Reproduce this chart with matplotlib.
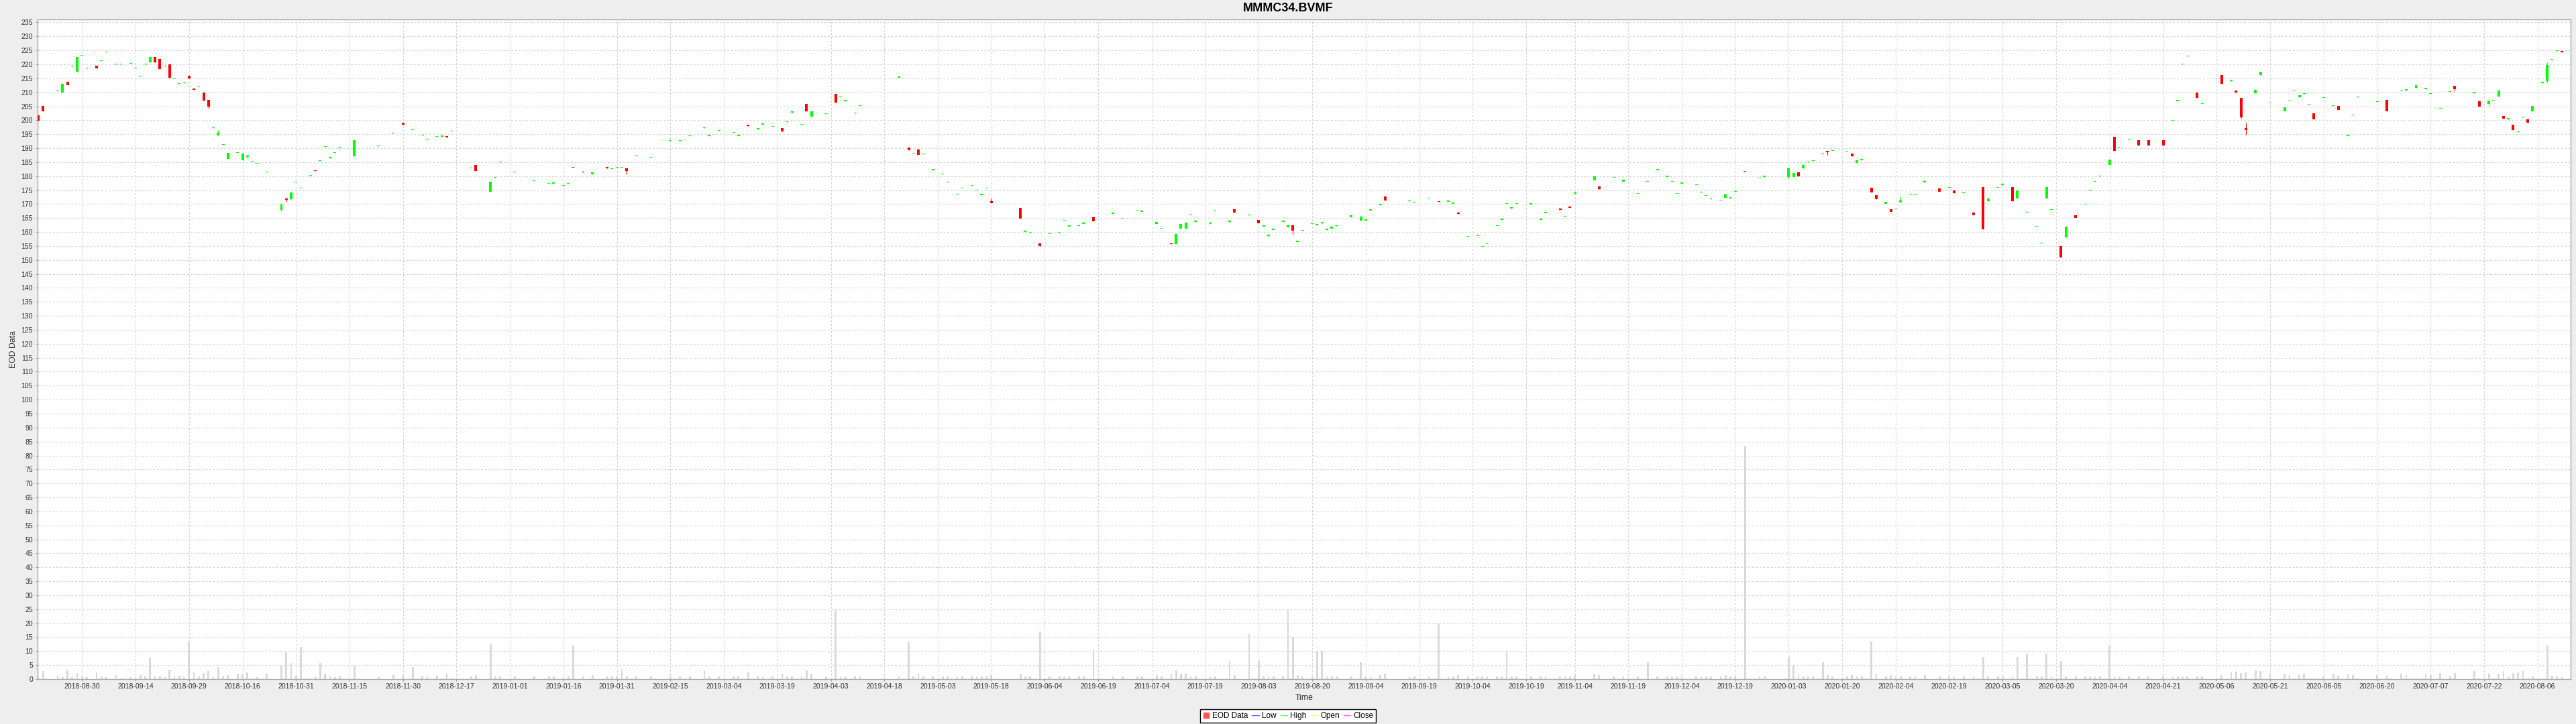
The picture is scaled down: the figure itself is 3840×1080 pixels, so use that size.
import numpy as np
import matplotlib
matplotlib.use("Agg")
import matplotlib.pyplot as plt
from matplotlib.lines import Line2D

plt.rcParams['font.family'] = ['Liberation Sans', 'DejaVu Sans']
plt.rcParams['lines.scale_dashes'] = False

TITLE = "MMMC34.BVMF"
START = "2018-08-30"   # trading_day 0 (Mon-Fri timeline)

tick_dates = ["2018-08-30", "2018-09-14", "2018-09-29", "2018-10-16", "2018-10-31", "2018-11-15",
              "2018-11-30", "2018-12-17", "2019-01-01", "2019-01-16", "2019-01-31", "2019-02-15",
              "2019-03-04", "2019-03-19", "2019-04-03", "2019-04-18", "2019-05-03", "2019-05-18",
              "2019-06-04", "2019-06-19", "2019-07-04", "2019-07-19", "2019-08-03", "2019-08-20",
              "2019-09-04", "2019-09-19", "2019-10-04", "2019-10-19", "2019-11-04", "2019-11-19",
              "2019-12-04", "2019-12-19", "2020-01-03", "2020-01-20", "2020-02-04", "2020-02-19",
              "2020-03-05", "2020-03-20", "2020-04-04", "2020-04-21", "2020-05-06", "2020-05-21",
              "2020-06-05", "2020-06-20", "2020-07-07", "2020-07-22", "2020-08-06"]

# weekday offset from START of each session
trading_day = [
    -9, -8, -5, -4, -3, -2, -1, 0, 1, 3,
    4, 5, 7, 8, 10, 11, 12, 13, 14, 15,
    16, 17, 18, 19, 20, 21, 22, 23, 24, 25,
    26, 27, 28, 29, 30, 32, 33, 34, 35, 36,
    38, 41, 42, 43, 44, 45, 47, 48, 49, 50,
    51, 52, 53,
    56, 61, 64, 66, 68, 70, 71, 73, 74, 75,
    76, 80, 81, 84, 85, 86, 89, 93, 96, 97,
    99, 100, 101, 103, 105, 108, 109, 110, 111, 112,
    114, 117,
    121, 123, 125, 128, 129, 131, 134, 135, 137, 139,
    140, 142, 144, 145, 146, 148, 149, 150, 153, 155,
    156, 157, 159, 160, 168, 170, 171, 172, 173, 175,
    177, 178, 180, 181, 183, 184,
    185, 186, 187, 193, 194, 195, 197, 199, 201, 202,
    203, 205, 206, 208, 212, 214, 217, 218, 221, 222,
    224, 225, 226, 227, 228, 229, 232, 233, 236, 237,
    240, 242, 243, 244, 245, 247, 248, 249,
    250, 251, 253, 254, 255, 256, 257, 258, 261, 263,
    264, 265, 267, 268, 273, 274, 277, 279, 281, 282,
    283, 285, 287, 288, 289, 291, 292, 293, 294, 295,
    298, 300, 301, 304, 305, 306, 307, 311, 312,
    315, 317, 320, 322, 324, 326, 327, 328, 329, 332,
    333, 334, 335, 337, 338, 339, 340, 342, 345, 346,
    351, 352, 353, 354, 355, 356, 358, 359, 360, 363,
    364, 365, 366, 368, 369, 371, 372, 373, 374, 376,
    377, 379,
    382, 384, 385, 387, 389, 391, 392, 394, 395, 397,
    398, 400, 402, 403, 404, 405, 407, 408, 410, 412,
    413, 414, 415, 417, 418, 419, 421, 423, 425, 428,
    430, 431, 432, 433, 435, 436,
    440, 442, 443, 444, 445, 447, 448, 450, 453, 454,
    455, 456, 457, 458, 459, 461, 463, 464, 466, 467,
    468, 472, 474, 477, 478, 480, 482, 483, 485, 487,
    488, 492, 493, 495, 496, 497, 498, 499, 500, 501,
    502, 503, 504, 506, 507, 508, 509, 510,
]

open_ = [
    201.7, 205.2, 210.6, 209.9, 213.7, 219.3, 217.4, 223.0, 218.6, 219.4,
    221.2, 224.2, 220.0, 219.9, 220.2, 218.5, 215.7, 220.0, 220.7, 222.6,
    221.9, 219.3, 220.0, 214.6, 213.0, 213.3, 215.8, 211.4, 211.8, 210.0,
    207.3, 197.2, 194.5, 191.1, 186.1, 188.3, 185.6, 186.8, 185.1, 184.4,
    181.3, 167.7, 172.0, 171.7, 177.7, 175.6, 180.2, 182.1, 185.4, 190.5,
    186.5, 188.3, 190.0,
    187.2, 190.7, 195.3, 199.2, 196.5, 194.5, 193.1, 194.0, 194.2, 194.4,
    195.9, 182.7, 184.0, 174.3, 179.4, 184.9, 181.4, 178.3, 177.2, 177.4,
    176.6, 177.3, 183.4, 181.7, 180.6, 183.3, 182.5, 183.0, 183.0, 182.8,
    187.1, 186.7,
    192.7, 192.7, 194.3, 197.2, 194.4, 196.3, 195.5, 194.4, 198.3, 196.8,
    198.5, 197.6, 197.3, 199.4, 202.8, 198.4, 205.9, 201.3, 202.2, 209.4,
    208.2, 206.9, 202.5, 205.1, 215.3, 190.2, 188.0, 189.6, 187.9, 182.2,
    180.6, 177.7, 173.5, 175.5, 176.5, 174.8,
    173.3, 175.6, 171.0, 168.7, 160.1, 159.8, 155.9, 159.2, 159.8, 164.1,
    162.0, 162.1, 163.0, 165.3, 166.6, 164.7, 167.6, 167.3, 163.0, 161.1,
    156.0, 155.8, 161.2, 161.2, 166.0, 163.7, 163.0, 167.4, 163.7, 168.2,
    166.0, 164.4, 162.0, 158.7, 160.8, 163.7, 161.8, 162.4,
    156.5, 160.5, 162.8, 162.5, 163.2, 160.8, 161.1, 162.2, 165.4, 164.2,
    164.2, 167.8, 169.6, 172.7, 171.1, 170.5, 171.9, 171.0, 170.9, 170.2,
    167.0, 158.3, 158.5, 154.7, 155.6, 162.1, 164.4, 170.0, 168.5, 170.0,
    169.8, 164.4, 166.8, 168.5, 165.5, 169.2, 173.6, 178.5, 176.3,
    179.5, 178.0, 173.6, 177.9, 182.2, 179.8, 177.9, 173.6, 177.4, 176.7,
    174.2, 173.0, 171.7, 171.2, 172.2, 172.0, 174.4, 181.8, 179.1, 179.8,
    179.7, 179.6, 181.3, 182.8, 184.9, 185.4, 187.9, 189.1, 189.0, 188.7,
    188.0, 184.8, 185.8, 175.8, 173.3, 170.2, 168.1, 168.3, 170.5, 173.4,
    173.1, 177.7,
    175.5, 175.9, 175.0, 173.9, 167.0, 176.0, 171.0, 175.9, 176.9, 176.0,
    172.0, 166.9, 161.9, 155.9, 172.0, 167.9, 155.0, 158.0, 166.0, 169.9,
    174.9, 177.9, 179.9, 184.0, 194.0, 189.9, 192.9, 193.0, 193.0, 193.0,
    199.9, 206.9, 219.9, 222.9, 210.0, 205.9,
    216.2, 214.1, 210.7, 208.1, 197.2, 209.6, 216.2, 206.0, 203.1, 206.7,
    210.3, 208.3, 209.4, 205.5, 202.4, 207.9, 205.1, 205.1, 194.4, 201.7,
    208.2, 206.6, 207.2, 210.6, 210.7, 211.5, 211.2, 209.4, 204.1, 210.1,
    212.3, 209.8, 206.8, 205.8, 207.0, 208.5, 201.5, 200.4, 198.4, 195.8,
    201.0, 200.3, 203.1, 213.4, 213.9, 221.7, 224.8, 224.8,
]

close = [
    199.9, 203.1, 210.8, 213.0, 212.5, 219.5, 222.7, 223.2, 218.8, 218.6,
    221.4, 224.4, 220.2, 220.1, 220.4, 218.7, 215.9, 220.2, 222.6, 220.6,
    218.2, 219.5, 215.3, 214.8, 213.2, 213.5, 215.0, 210.9, 212.0, 207.1,
    204.9, 197.4, 195.6, 191.3, 188.3, 188.5, 188.2, 187.3, 185.3, 184.6,
    181.5, 170.2, 171.6, 174.2, 177.9, 175.8, 180.4, 181.8, 185.7, 190.7,
    186.7, 188.5, 190.2,
    193.0, 190.9, 195.5, 198.4, 196.7, 194.7, 193.3, 194.2, 194.4, 193.9,
    196.1, 182.9, 181.9, 177.9, 179.6, 185.1, 181.6, 178.5, 177.4, 177.6,
    176.8, 177.5, 183.1, 181.3, 181.3, 182.7, 182.7, 183.2, 183.2, 181.8,
    187.3, 186.9,
    192.9, 192.9, 194.5, 197.4, 194.6, 196.5, 195.7, 194.6, 198.0, 197.0,
    198.7, 197.8, 195.9, 199.6, 203.0, 198.6, 203.2, 203.2, 202.4, 206.4,
    208.4, 207.1, 202.7, 205.3, 215.5, 189.2, 188.2, 187.6, 188.1, 182.4,
    180.8, 177.9, 173.7, 175.7, 176.7, 175.0,
    173.5, 175.8, 170.3, 164.8, 160.3, 160.0, 155.0, 159.4, 160.0, 164.3,
    162.2, 162.3, 163.2, 163.9, 166.8, 164.9, 167.8, 167.5, 163.7, 161.3,
    155.6, 159.4, 163.0, 163.4, 166.2, 163.9, 163.2, 167.6, 164.1, 167.0,
    166.2, 163.2, 162.2, 158.9, 161.0, 163.9, 162.4, 160.5,
    156.7, 160.7, 163.0, 163.0, 163.4, 161.0, 161.9, 162.4, 166.1, 165.6,
    164.4, 168.0, 170.2, 171.4, 171.4, 170.7, 172.1, 170.7, 171.1, 170.4,
    166.6, 158.5, 158.7, 154.9, 155.8, 162.3, 164.6, 170.2, 168.7, 170.2,
    170.4, 164.6, 167.0, 168.0, 165.7, 168.7, 174.2, 180.0, 175.4,
    179.7, 178.8, 173.8, 178.1, 182.4, 180.0, 178.1, 173.8, 177.6, 176.9,
    174.4, 173.2, 171.9, 171.4, 173.4, 172.4, 174.6, 181.5, 179.3, 180.0,
    182.8, 181.1, 179.9, 183.9, 185.1, 185.6, 188.1, 188.5, 189.2, 188.9,
    187.1, 185.7, 186.0, 174.2, 171.7, 170.8, 167.3, 168.5, 171.4, 173.6,
    173.3, 178.3,
    174.5, 176.1, 174.0, 174.1, 166.0, 161.0, 172.0, 176.1, 177.1, 171.0,
    175.0, 167.1, 162.1, 156.1, 176.0, 168.1, 151.0, 162.0, 165.0, 170.1,
    175.1, 178.1, 180.1, 186.0, 189.0, 190.1, 193.1, 191.0, 191.0, 191.0,
    200.1, 207.1, 220.1, 223.1, 208.0, 206.1,
    213.0, 214.3, 210.0, 201.1, 196.5, 210.8, 217.4, 206.2, 204.7, 206.9,
    210.5, 209.0, 209.6, 205.7, 200.4, 208.1, 205.3, 203.7, 194.6, 201.9,
    208.4, 206.8, 203.3, 210.8, 211.1, 212.5, 211.4, 209.6, 204.3, 210.3,
    211.2, 210.0, 205.0, 207.0, 207.2, 210.6, 200.5, 200.6, 196.6, 196.0,
    201.2, 199.2, 205.1, 213.6, 219.8, 221.9, 225.0, 224.4,
]

high = [
    201.7, 205.2, 210.8, 213.0, 213.7, 219.5, 222.7, 223.2, 218.8, 219.4,
    221.4, 224.4, 220.2, 220.1, 220.4, 218.7, 215.9, 220.2, 222.6, 222.6,
    221.9, 219.5, 220.0, 214.8, 213.2, 213.5, 215.8, 211.4, 212.0, 210.0,
    207.3, 197.4, 196.4, 191.3, 188.3, 188.5, 188.2, 187.3, 185.3, 184.6,
    181.5, 170.2, 172.0, 174.2, 177.9, 175.8, 180.4, 182.1, 185.7, 190.7,
    186.7, 188.5, 190.2,
    193.0, 190.9, 195.5, 199.2, 196.7, 194.7, 193.3, 194.2, 194.4, 194.4,
    196.1, 182.9, 184.0, 177.9, 179.6, 185.1, 181.6, 178.5, 177.4, 177.6,
    176.8, 177.5, 183.4, 181.7, 181.3, 183.3, 182.7, 183.2, 183.2, 182.8,
    187.3, 186.9,
    192.9, 192.9, 194.5, 197.4, 194.6, 196.5, 195.7, 194.6, 198.3, 197.0,
    198.7, 197.8, 197.3, 199.6, 203.0, 198.6, 205.9, 203.2, 202.4, 209.4,
    208.4, 207.1, 202.7, 205.3, 215.5, 190.2, 188.2, 189.6, 188.1, 182.4,
    180.8, 177.9, 173.7, 175.7, 176.7, 175.0,
    173.5, 175.8, 172.1, 168.7, 160.3, 160.0, 155.9, 159.4, 160.0, 164.3,
    162.2, 162.3, 163.2, 165.3, 166.8, 164.9, 167.8, 167.5, 163.7, 161.3,
    156.0, 159.4, 163.0, 163.4, 166.2, 163.9, 163.2, 167.6, 164.1, 168.2,
    166.2, 164.4, 162.2, 158.9, 161.0, 163.9, 162.4, 162.4,
    156.7, 160.7, 163.0, 163.0, 163.4, 161.0, 161.9, 162.4, 166.1, 165.6,
    164.4, 168.0, 170.2, 172.7, 171.4, 170.7, 172.1, 171.0, 171.1, 170.4,
    167.0, 158.5, 158.7, 154.9, 155.8, 162.3, 164.6, 170.2, 168.7, 170.2,
    170.4, 164.6, 167.0, 168.5, 165.7, 169.2, 174.2, 180.0, 176.3,
    179.7, 178.8, 173.8, 178.1, 182.4, 180.0, 178.1, 173.8, 177.6, 176.9,
    174.4, 173.2, 171.9, 171.4, 173.4, 172.4, 174.6, 181.8, 179.3, 180.0,
    182.8, 181.1, 181.3, 183.9, 185.1, 185.6, 188.1, 189.1, 189.2, 188.9,
    188.0, 185.7, 186.0, 175.8, 173.3, 170.8, 168.1, 168.5, 172.7, 173.6,
    173.3, 178.7,
    175.5, 176.1, 175.0, 174.1, 167.0, 176.0, 172.0, 176.1, 177.1, 176.0,
    175.0, 167.1, 162.1, 156.1, 176.0, 168.1, 155.0, 162.0, 166.0, 170.1,
    175.1, 178.1, 180.1, 186.0, 194.0, 190.1, 193.1, 193.0, 193.0, 193.0,
    200.1, 207.1, 220.1, 223.1, 210.0, 206.1,
    216.2, 214.3, 210.7, 208.1, 199.1, 210.8, 217.4, 206.2, 204.7, 206.9,
    210.5, 209.0, 209.6, 205.7, 202.4, 208.1, 205.3, 205.1, 194.6, 201.9,
    208.4, 206.8, 207.2, 210.8, 211.1, 212.5, 211.4, 209.6, 204.3, 210.3,
    212.3, 210.0, 206.8, 207.0, 207.2, 210.6, 201.5, 200.6, 198.4, 196.0,
    201.2, 200.3, 205.1, 213.6, 220.6, 221.9, 225.0, 224.8,
]

low = [
    199.9, 203.1, 210.6, 209.9, 212.5, 219.3, 217.4, 223.0, 218.6, 218.6,
    221.2, 224.2, 220.0, 219.9, 220.2, 218.5, 215.7, 220.0, 220.7, 220.6,
    218.2, 219.3, 215.3, 214.6, 213.0, 213.3, 215.0, 210.9, 211.8, 207.1,
    204.2, 197.2, 194.5, 191.1, 186.1, 188.3, 185.6, 186.1, 185.1, 184.4,
    181.3, 167.7, 170.7, 171.7, 177.7, 175.6, 180.2, 181.8, 185.4, 190.5,
    186.5, 188.3, 190.0,
    187.2, 190.7, 195.3, 198.4, 196.5, 194.5, 193.1, 194.0, 194.2, 193.9,
    195.9, 182.7, 181.9, 174.3, 179.4, 184.9, 181.4, 178.3, 177.2, 177.4,
    176.6, 177.3, 183.1, 181.3, 180.6, 182.7, 182.5, 183.0, 183.0, 180.7,
    187.1, 186.7,
    192.7, 192.7, 194.3, 197.2, 194.4, 196.3, 195.5, 194.4, 198.0, 196.8,
    198.5, 197.6, 195.9, 199.4, 202.8, 198.4, 203.2, 201.3, 202.2, 206.4,
    208.2, 206.9, 202.5, 205.1, 215.3, 189.2, 188.0, 187.6, 187.9, 182.2,
    180.6, 177.7, 173.5, 175.5, 176.5, 174.8,
    173.3, 175.6, 170.3, 164.8, 160.1, 159.8, 155.0, 159.2, 159.8, 164.1,
    162.0, 162.1, 163.0, 163.9, 166.6, 164.7, 167.6, 167.3, 163.0, 161.1,
    155.6, 155.8, 161.2, 161.2, 166.0, 163.7, 163.0, 167.4, 163.3, 167.0,
    166.0, 163.2, 162.0, 158.7, 160.8, 163.7, 161.8, 159.1,
    156.5, 160.5, 162.8, 162.5, 163.2, 160.8, 161.1, 162.2, 165.4, 164.2,
    164.2, 167.8, 169.6, 171.4, 171.1, 170.5, 171.9, 170.7, 170.9, 170.2,
    166.6, 158.3, 158.5, 154.7, 155.6, 162.1, 164.4, 170.0, 168.5, 170.0,
    169.8, 164.4, 166.8, 168.0, 165.5, 168.7, 173.6, 178.5, 175.4,
    179.5, 178.0, 173.6, 177.9, 182.2, 179.8, 177.9, 173.6, 177.4, 176.7,
    174.2, 173.0, 171.7, 171.2, 172.2, 172.0, 174.4, 181.5, 179.1, 179.8,
    179.1, 179.6, 179.9, 182.8, 184.9, 185.4, 187.9, 187.7, 189.0, 188.7,
    187.1, 184.8, 185.8, 174.2, 171.7, 170.2, 167.3, 168.3, 170.5, 173.4,
    173.1, 177.7,
    174.5, 175.9, 174.0, 173.9, 166.0, 161.0, 171.0, 175.9, 176.9, 171.0,
    172.0, 166.9, 161.9, 155.9, 172.0, 167.9, 151.0, 158.0, 165.0, 169.9,
    174.9, 177.9, 179.9, 184.0, 189.0, 189.9, 192.9, 191.0, 191.0, 191.0,
    199.9, 206.9, 219.9, 222.9, 208.0, 205.9,
    213.0, 214.1, 210.0, 200.9, 194.9, 209.6, 215.8, 206.0, 203.1, 206.7,
    210.3, 208.3, 209.4, 205.5, 200.4, 207.9, 205.1, 203.7, 194.4, 201.7,
    208.2, 206.6, 203.3, 210.6, 210.7, 211.5, 211.2, 209.4, 204.1, 210.1,
    210.5, 209.8, 205.0, 205.0, 207.0, 208.5, 200.5, 200.4, 196.6, 195.8,
    201.0, 199.2, 203.1, 213.4, 213.6, 221.7, 224.8, 224.4,
]

volume = [
    1.0, 2.8, 1.3, 0.6, 3.2, 0.6, 2.2, 1.0, 0.8, 2.5,
    1.0, 0.6, 1.5, 0.3, 0.6, 0.8, 1.5, 1.0, 7.7, 1.0,
    1.3, 0.8, 3.4, 1.0, 1.3, 0.8, 13.4, 2.5, 1.0, 2.2,
    2.9, 0.6, 4.3, 1.0, 1.5, 1.8, 2.0, 2.5, 0.3, 0.8,
    1.8, 4.8, 9.7, 5.7, 1.3, 11.5, 0.3, 0.6, 5.7, 2.0,
    1.3, 0.6, 1.3,
    4.8, 0.6, 1.5, 1.3, 4.3, 1.3, 1.3, 1.3, 0.3, 1.8,
    0.3, 1.0, 1.5, 12.5, 1.0, 1.0, 1.0, 1.0, 1.0, 1.0,
    1.0, 1.0, 12.0, 1.0, 1.5, 1.0, 1.0, 1.0, 3.5, 1.0,
    1.0, 1.0,
    1.0, 1.0, 1.0, 3.0, 1.0, 1.0, 1.0, 1.0, 2.5, 1.0,
    1.0, 1.0, 2.0, 1.0, 1.0, 1.0, 3.0, 2.0, 1.0, 25.0,
    1.0, 1.0, 1.0, 1.0, 1.0, 13.5, 1.0, 2.0, 1.0, 1.0,
    1.0, 1.0, 1.0, 1.0, 1.0, 1.0,
    1.0, 1.0, 1.5, 2.0, 1.0, 1.0, 17.0, 1.0, 1.0, 1.0,
    1.0, 1.0, 1.0, 10.6, 1.0, 1.0, 1.0, 1.0, 1.5, 1.0,
    2.0, 3.0, 2.0, 2.0, 1.0, 1.0, 1.0, 1.0, 6.5, 1.5,
    16.0, 6.5, 1.0, 1.0, 1.0, 1.0, 25.0, 15.0,
    1.5, 1.0, 1.0, 10.0, 10.0, 1.0, 1.0, 1.0, 1.0, 6.0,
    1.0, 1.0, 1.5, 2.0, 1.0, 1.0, 1.0, 20.0, 1.0, 1.0,
    1.5, 1.0, 1.0, 1.0, 1.0, 1.0, 1.0, 10.0, 1.0, 1.0,
    1.0, 1.0, 1.0, 1.0, 1.0, 1.0, 1.5, 2.0, 1.5,
    1.0, 1.0, 1.0, 6.0, 1.0, 1.0, 1.0, 1.0, 1.0, 1.0,
    1.0, 1.0, 1.0, 1.0, 1.5, 1.0, 1.0, 83.6, 1.0, 1.0,
    8.0, 5.0, 1.5, 1.0, 1.0, 1.0, 6.0, 1.5, 1.0, 1.0,
    1.5, 1.0, 1.0, 13.5, 2.0, 1.0, 1.5, 1.0, 1.0, 1.0,
    1.0, 1.5,
    1.0, 1.0, 1.0, 1.0, 1.0, 8.0, 1.0, 1.0, 1.0, 1.0,
    8.0, 9.0, 1.0, 1.0, 9.0, 1.0, 6.5, 1.0, 1.0, 1.0,
    1.0, 1.0, 1.0, 12.0, 1.0, 1.0, 1.0, 1.0, 1.0, 1.0,
    1.0, 1.0, 1.0, 1.0, 1.0, 1.0,
    1.4, 2.5, 2.7, 2.2, 2.5, 3.2, 2.9, 2.2, 2.0, 1.5,
    0.2, 1.5, 2.0, 0.3, 0.3, 1.3, 1.8, 1.3, 1.8, 1.5,
    0.3, 1.5, 1.3, 2.0, 1.5, 0.3, 2.0, 1.5, 2.2, 1.0,
    2.2, 2.9, 0.3, 2.0, 0.2, 2.0, 2.9, 0.6, 2.2, 2.5,
    2.9, 0.3, 1.0, 0.2, 12.0, 1.3, 1.0, 0.6,
]

n = len(trading_day)
assert all(len(a) == n for a in (open_, close, high, low, volume)), [len(a) for a in (trading_day, open_, close, high, low, volume)]

x = np.array(trading_day, dtype=float)
o = np.array(open_)
c = np.array(close)
h = np.array(high)
l = np.array(low)
v = np.array(volume)
colors = np.where(c > o, "#00FF00", "#FF0000")

W, H = 3840, 1080
fig = plt.figure(figsize=(W / 100, H / 100), dpi=100, facecolor="#EEEEEE")
ax = fig.add_axes([56 / W, 1 - 1013 / H, (3832 - 56) / W, (1013 - 29.3) / H])
ax.set_facecolor("white")
ax.set_xlim(-9.15, 511.8)
ax.set_ylim(0, 236)

# volume bars
ax.bar(x, v, width=0.38, color="#D9D9D9", linewidth=0, zorder=2)
# wicks
ax.vlines(x, l, h, colors=colors, linewidth=0.8, zorder=3)
# bodies
body_lo = np.minimum(o, c)
body_h = np.maximum(np.abs(c - o), 0.3)
ax.bar(x, body_h, bottom=body_lo, width=0.55, color=colors, linewidth=0, zorder=4)

tick_pos = np.busday_count(START, np.array(tick_dates, dtype="datetime64[D]"))
ax.set_xticks(tick_pos)
ax.set_xticklabels(tick_dates)
ax.set_yticks(np.arange(0, 236, 5))

ax.grid(True, color="#D2D2D2", linestyle=(0, (2, 2)), linewidth=0.8)
ax.set_axisbelow(True)
for s in ax.spines.values():
    s.set_color("#A8A8A8")
    s.set_linewidth(1.0)

ax.tick_params(axis="both", labelsize=7.6, length=2, width=0.8, color="#A0A0A0", labelcolor="#333333")
ax.tick_params(axis="x", pad=2.5)
ax.tick_params(axis="y", pad=3)

fig.text(0.5, 1 - 12.5 / H, TITLE, ha="center", va="center", fontsize=13, fontweight="bold", color="black")
fig.text(1944 / W, 1 - 1040.7 / H, "Time", ha="center", va="center", fontsize=8.8, color="#333333")
fig.text(20 / W, 1 - 521 / H, "EOD Data", ha="center", va="center", rotation=90, fontsize=8.8, color="#333333")

handles = [
    Line2D([], [], marker="s", linestyle="none", markerfacecolor="#FF5555", markeredgecolor="#FF5555", markersize=5.5),
    Line2D([], [], color="#5555FF", linewidth=1),
    Line2D([], [], color="#55FF55", linewidth=1),
    Line2D([], [], color="#FFFF55", linewidth=1),
    Line2D([], [], color="#FF55FF", linewidth=1),
]
leg = fig.legend(handles, ["EOD Data", "Low", "High", "Open", "Close"], loc="center",
                 bbox_to_anchor=(0.5, 1 - 1068 / H), ncol=5, fontsize=8.5, frameon=True,
                 fancybox=False, edgecolor="black", facecolor="white", framealpha=1,
                 handlelength=0.9, handletextpad=0.35, columnspacing=0.5, borderpad=0.3,
                 borderaxespad=0)
leg.get_frame().set_linewidth(1.0)

fig.savefig("out.png", dpi=100, facecolor=fig.get_facecolor())
